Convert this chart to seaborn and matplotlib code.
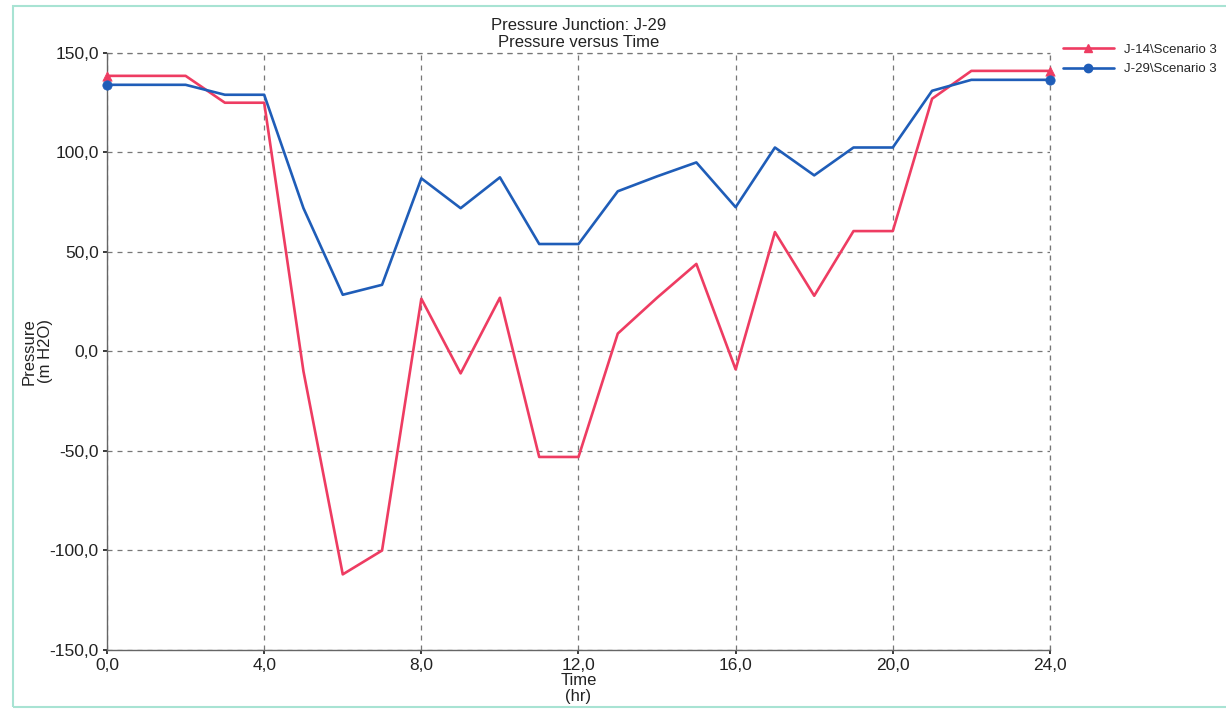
import matplotlib
matplotlib.use("Agg")
import matplotlib.pyplot as plt
from matplotlib.lines import Line2D
from matplotlib.patches import Rectangle
from matplotlib.ticker import FuncFormatter
import numpy as np
import pandas as pd
import seaborn as sns

# Hourly pressure (m H2O) at the two junctions
hours = list(range(0, 25))
j14_pressure = [138.5, 138.5, 138.5, 125, 125, -10, -112, -100, 26.5, -11, 27,
                -53, -53, 9, 27, 44, -9, 60, 28, 60.5, 60.5, 127, 141, 141, 141]
j29_pressure = [134, 134, 134, 129, 129, 72, 28.5, 33.5, 87, 72, 87.5,
                54, 54, 80.5, 88, 95, 72.5, 102.5, 88.5, 102.5, 102.5, 131, 136.5, 136.5, 136.5]
series_names = ["J-14\\Scenario 3", "J-29\\Scenario 3"]
x_ticks = [0, 4, 8, 12, 16, 20, 24]
y_ticks = [-150, -100, -50, 0, 50, 100, 150]

colors = {series_names[0]: "#ee3c62", series_names[1]: "#1f5db8"}
markers = {series_names[0]: "^", series_names[1]: "o"}

df = pd.DataFrame({
    "Time": hours * 2,
    "Pressure": j14_pressure + j29_pressure,
    "Series": [series_names[0]] * len(hours) + [series_names[1]] * len(hours),
})

sns.set_theme(style="white")
plt.rcParams["font.family"] = ["Liberation Sans", "DejaVu Sans"]

fig = plt.figure(figsize=(12.26, 7.11), dpi=100)
ax = fig.add_axes([0.0873, 0.0858, 0.7691, 0.8397])

sns.lineplot(data=df, x="Time", y="Pressure", hue="Series", palette=colors,
             linewidth=1.9, ax=ax, legend=False, zorder=3)

# End-point markers
ends = df[df["Time"].isin([hours[0], hours[-1]])]
for name, grp in ends.groupby("Series"):
    sns.scatterplot(data=grp, x="Time", y="Pressure", color=colors[name],
                    marker=markers[name], s=45, edgecolor=colors[name],
                    ax=ax, legend=False, zorder=4, clip_on=False)

ax.set_xlim(x_ticks[0], x_ticks[-1])
ax.set_ylim(y_ticks[0], y_ticks[-1])
ax.set_xticks(x_ticks)
ax.set_yticks(y_ticks)
comma = FuncFormatter(lambda v, p: f"{v:.1f}".replace(".", ",").replace("\u2212", "-"))
ax.xaxis.set_major_formatter(comma)
ax.yaxis.set_major_formatter(comma)
ax.tick_params(axis="both", labelsize=12.5, colors="#222222", length=3,
               direction="out", pad=3, left=True, bottom=True)

grid_style = dict(linestyle=(0, (4, 4)), color="#777777", linewidth=0.9)
ax.grid(True, **grid_style)
# Dashed frame on the outer edges, drawn unclipped so it shows in full
ax.axvline(x_ticks[-1], clip_on=False, zorder=2, **grid_style)
ax.axhline(y_ticks[-1], clip_on=False, zorder=2, **grid_style)
for side in ("top", "right"):
    ax.spines[side].set_visible(False)
for side in ("left", "bottom"):
    ax.spines[side].set_color("#666666")
    ax.spines[side].set_linewidth(1.0)

ax.set_xlabel("Time\n(hr)", fontsize=12, color="#222222", labelpad=0, linespacing=1.05)
ax.set_ylabel("Pressure\n(m H2O)", fontsize=12, color="#222222", linespacing=1.15)
ax.yaxis.set_label_coords(-0.057, 0.5)
ax.set_title("Pressure Junction: J-29\nPressure versus Time", fontsize=12,
             color="#222222", pad=4, linespacing=1.2)

handles = [Line2D([0], [0], color=colors[n], marker=markers[n], markersize=6,
                  linewidth=1.9) for n in series_names]
fig.legend(handles, series_names, loc="upper left", bbox_to_anchor=(0.862, 0.948),
           frameon=False, fontsize=9.5, handlelength=3.8, labelspacing=0.55,
           handletextpad=0.8, borderpad=0)

# Page frame
fig.add_artist(Rectangle((0.011, 0.006), 1.2, 0.985, transform=fig.transFigure,
                         fill=False, edgecolor="#a8e3d3", linewidth=1.5))

fig.savefig("out.png", dpi=100, facecolor="white")
